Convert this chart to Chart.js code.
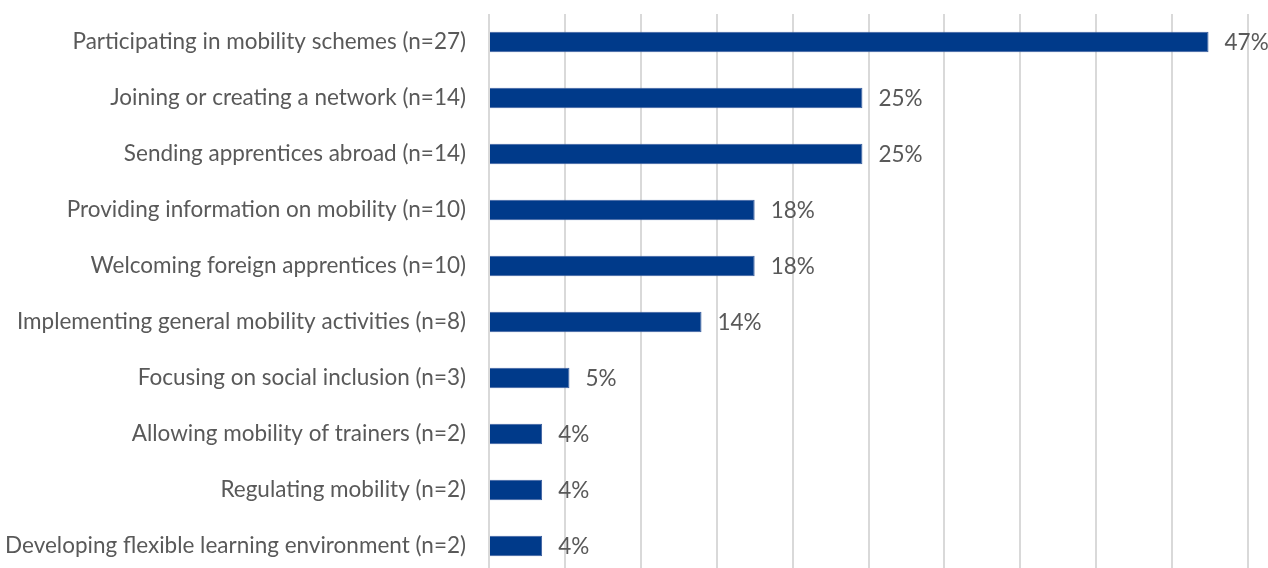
<!DOCTYPE html>
<html>
<head>
<meta charset="utf-8">
<script src="https://cdn.jsdelivr.net/npm/chart.js@4"></script>
<style>
html,body{margin:0;padding:0;background:#fff;overflow:hidden;}
#wrap{width:1268px;height:574px;position:relative;}
</style>
</head>
<body>
<div id="wrap"><canvas id="c"></canvas></div>
<script>
const categories = [
  "Participating in mobility schemes (n=27)",
  "Joining or creating a network (n=14)",
  "Sending apprentices abroad (n=14)",
  "Providing information on mobility (n=10)",
  "Welcoming foreign apprentices (n=10)",
  "Implementing general mobility activities (n=8)",
  "Focusing on social inclusion (n=3)",
  "Allowing mobility of trainers (n=2)",
  "Regulating mobility (n=2)",
  "Developing flexible learning environment (n=2)"
];
const shares = [0.474, 0.246, 0.246, 0.175, 0.175, 0.140, 0.053, 0.035, 0.035, 0.035];
const valueLabels = ["47%", "25%", "25%", "18%", "18%", "14%", "5%", "4%", "4%", "4%"];
const axisMax = 0.5;
const axisStep = 0.05;

const FONT = "Lato, 'Open Sans', sans-serif";
const TEXT = "#595959";

const valueLabelPlugin = {
  id: 'valueLabels',
  afterDatasetsDraw(chart) {
    const ctx = chart.ctx;
    const meta = chart.getDatasetMeta(0);
    ctx.save();
    ctx.font = "22.5px " + FONT;
    ctx.fillStyle = TEXT;
    ctx.textAlign = 'left';
    ctx.textBaseline = 'middle';
    meta.data.forEach((bar, i) => {
      ctx.fillText(valueLabels[i], bar.x + 16, bar.y + 1);
    });
    ctx.restore();
  }
};

new Chart(document.getElementById('c'), {
  type: 'bar',
  data: {
    labels: categories,
    datasets: [{
      data: shares,
      backgroundColor: '#003A8A',
      borderColor: '#3A5E9E',
      borderWidth: 1,
      barPercentage: 0.37,
      categoryPercentage: 1.0
    }]
  },
  options: {
    indexAxis: 'y',
    responsive: true,
    maintainAspectRatio: false,
    animation: false,
    layout: { padding: { top: 14, right: 20, left: 0, bottom: 0 } },
    plugins: { legend: { display: false }, tooltip: { enabled: false } },
    scales: {
      x: {
        min: 0, max: axisMax,
        ticks: { display: false, stepSize: axisStep },
        grid: { color: '#d9d9d9', lineWidth: 2, drawTicks: false },
        border: { display: false },
        afterFit(s) { s.height = 0; s.paddingLeft = 0; s.paddingRight = 0; }
      },
      y: {
        afterFit(s) { s.width = 489; s.paddingTop = 0; s.paddingBottom = 0; },
        ticks: { color: TEXT, font: { family: FONT, size: 22.5 }, padding: 23 },
        grid: { display: false, drawTicks: false },
        border: { display: false }
      }
    }
  },
  plugins: [valueLabelPlugin]
});
</script>
</body>
</html>
